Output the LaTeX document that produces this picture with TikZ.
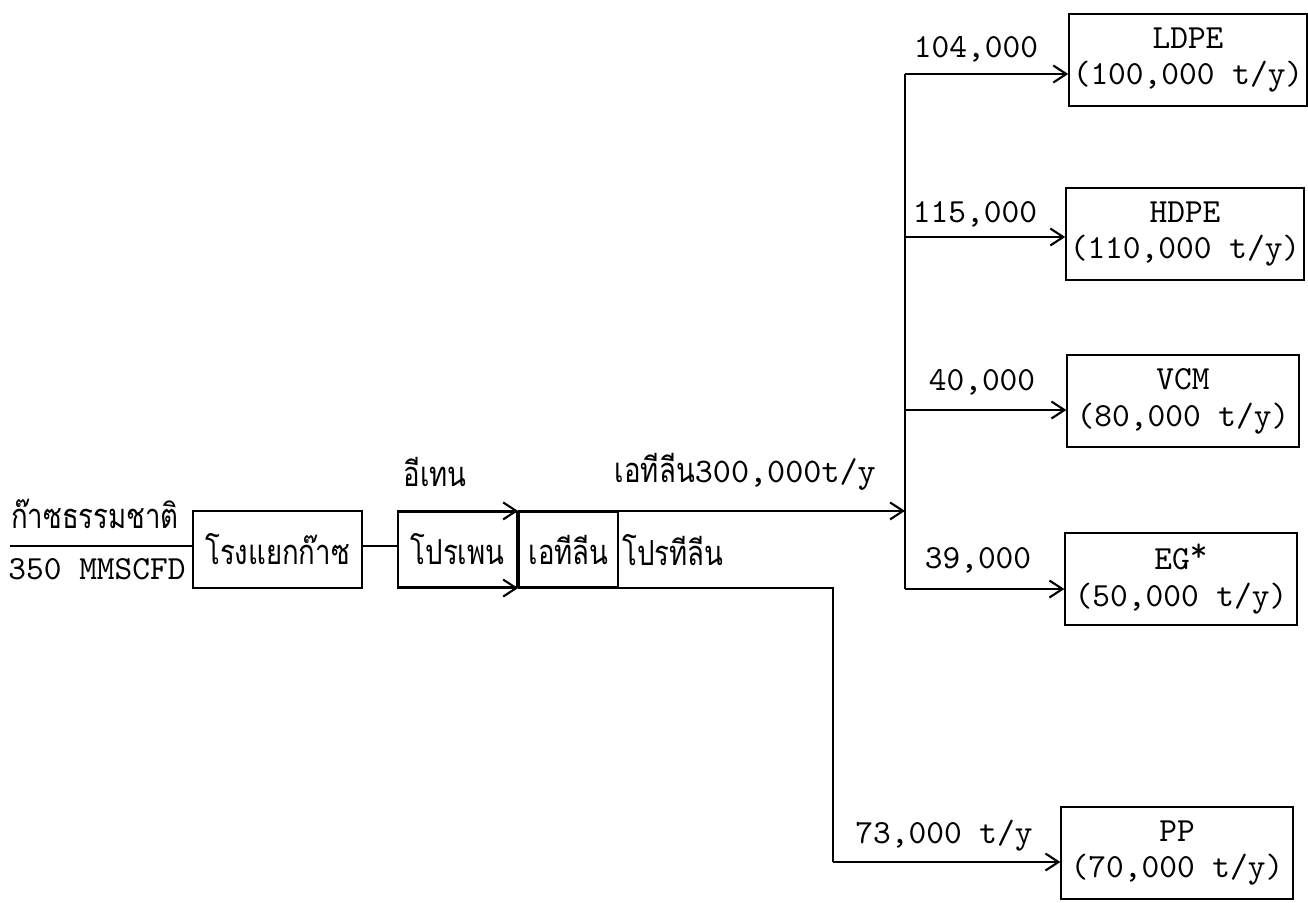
\documentclass[tikz,border=0pt]{standalone}
\usepackage{fontspec}
\newfontfamily\thai[Script=Thai,FakeStretch=0.8]{Loma}
\usetikzlibrary{positioning,arrows.meta}

\begin{document}
\begin{tikzpicture}[
  x=0.01cm,y=-0.01cm,
  node distance=0pt,
  flow/.style={semithick,-{Straight Barb[length=1.3mm,width=1.7mm]}},
  pipe/.style={semithick},
  plant/.style={draw,semithick,minimum width=1.69cm,minimum height=0.77cm,inner sep=1pt,font=\thai\fontsize{9.8}{12}\selectfont},
  cell/.style={draw,semithick,minimum height=0.75cm,inner sep=1pt,font=\thai\fontsize{9.8}{12}\selectfont},
  prod/.style={draw,semithick,minimum width=2.31cm,minimum height=0.92cm,align=center,inner sep=1pt,font=\ttfamily\fontsize{9.6}{10.5}\selectfont},
  qty/.style={font=\ttfamily\fontsize{9.6}{11}\selectfont,inner sep=1pt},
  lbl/.style={font=\thai\fontsize{9.8}{12}\selectfont,inner sep=1pt},
  every node/.style={inner sep=2pt},
]
\useasboundingbox (0,0) rectangle (1308,902);

% feed and gas separation
\coordinate (gasin) at (10,546);
\node[plant] (gsp) at (277.5,549.5) {โรงแยกก๊าซ};
\node[lbl] (gasname) at (95,514) {ก๊าซธรรมชาติ};
\node[qty] (gasflow) at (97,569) {350 MMSCFD};
\draw[pipe] (gasin) -- (gsp.west |- gasin);

% cracker cells
\node[cell,minimum width=1.19cm] (c1) at (457.5,549.5) {โปรเพน};
\node[cell,minimum width=0.99cm,right=of c1] (c2) {เอทีลีน};
\node[lbl,anchor=west] (c3) at (618,550) {โปรทีลีน};
\draw[pipe] (gsp.east |- gasin) -- (c1.west |- gasin);
\node[lbl] (ethane) at (435,472) {อีเทน};
\node[lbl,anchor=east] (ethyl) at (880,472) {เอทีลีน{\ttfamily 300,000t/y}};

% products
\node[prod] (ldpe) at (1188,60) {LDPE\\(100,000 t/y)};
\node[prod] (hdpe) at (1185,234) {HDPE\\(110,000 t/y)};
\node[prod] (vcm) at (1183,401) {VCM\\(80,000 t/y)};
\node[prod] (eg) at (1181,579) {EG\raisebox{0.5ex}{*}\\(50,000 t/y)};
\node[prod] (pp) at (1177,853) {PP\\(70,000 t/y)};

% ethylene header
\coordinate (b1) at (905,74);
\coordinate (b2) at (905,237);
\coordinate (b3) at (905,410);
\coordinate (b4) at (905,589);
\coordinate (b5) at (833,862);
\draw[pipe] (b1) -- (b4);
\draw[flow] (c1.north west) -- (c2.north west);
\draw[flow] (c2.north west) -- (c2.north west -| b1);
\draw[flow] (c1.south west) -- (c2.south west);
\draw[pipe] (c2.south west) -| (b5);

\draw[flow] (b1) -- (b1 -| ldpe.west);
\draw[flow] (b2) -- (b2 -| hdpe.west);
\draw[flow] (b3) -- (b3 -| vcm.west);
\draw[flow] (b4) -- (b4 -| eg.west);
\draw[flow] (b5) -- (b5 -| pp.west);

\node[qty] (q1) at (976,49) {104,000};
\node[qty] (q2) at (975,214) {115,000};
\node[qty] (q3) at (982,382) {40,000};
\node[qty] (q4) at (978,560) {39,000};
\node[qty] (q5) at (944,836) {73,000 t/y};
\end{tikzpicture}
\end{document}
